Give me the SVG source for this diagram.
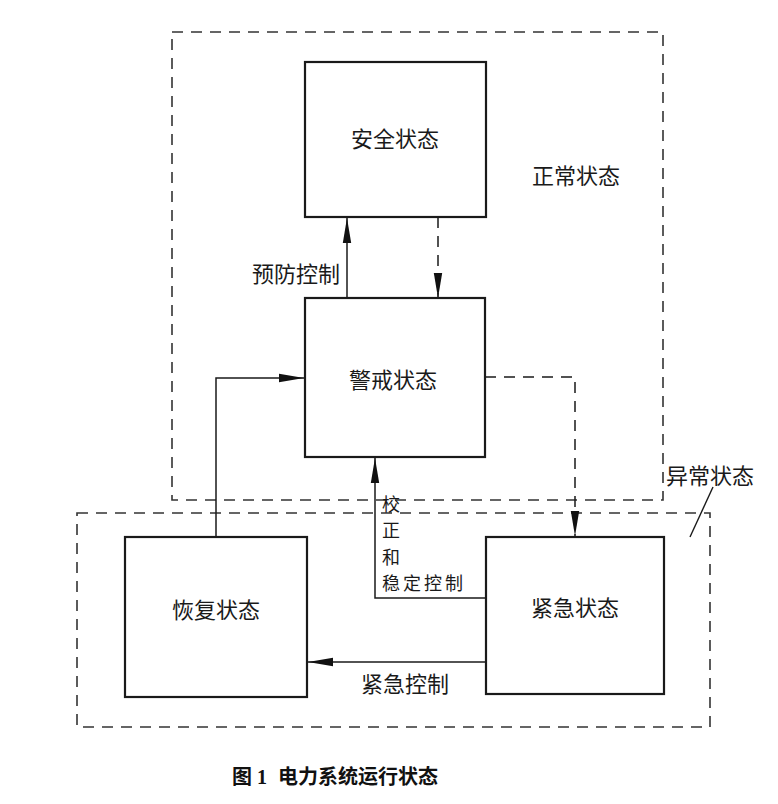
<svg xmlns="http://www.w3.org/2000/svg" width="778" height="804" viewBox="0 0 778 804">
<style>
.box{fill:none;stroke:#1a1a1a;stroke-width:2.2}
.region{fill:none;stroke:#333;stroke-width:1.6;stroke-dasharray:11 8}
.conn{fill:none;stroke:#1a1a1a;stroke-width:1.5}
.dash{fill:none;stroke:#1a1a1a;stroke-width:1.5;stroke-dasharray:11 8}
.lbl{font-family:"Noto Sans CJK SC","Liberation Sans",sans-serif;font-size:22px;fill:#1a1a1a}
.vl{font-family:"Noto Sans CJK SC","Liberation Sans",sans-serif;font-size:18px;fill:#1a1a1a;dominant-baseline:central;letter-spacing:3px}
.mid{text-anchor:middle;dominant-baseline:central}
.cap{font-family:"Liberation Serif","Noto Sans CJK SC",serif;font-size:20px;font-weight:bold;fill:#111}
</style>
<defs>
<marker id="ah" markerUnits="userSpaceOnUse" markerWidth="26" markerHeight="10" refX="25" refY="5" orient="auto">
<path d="M0,0.8 L25,5 L0,9.2 z" fill="#111" stroke="none"/>
</marker>
</defs>
<rect width="778" height="804" fill="#fff"/>
<g id="regions">
<rect id="normal-region" class="region" x="172" y="32" width="491" height="468"/>
<rect id="abnormal-region" class="region" x="77" y="513" width="633" height="214"/>
<text class="lbl mid" x="576" y="174">正常状态</text>
<text class="lbl mid" x="710" y="474">异常状态</text>
<line x1="713" y1="487" x2="690" y2="537" stroke="#1a1a1a" stroke-width="1.4"/>
</g>
<g id="connectors">
<line class="conn" x1="347" y1="298" x2="347" y2="218" marker-end="url(#ah)"/>
<line class="dash" x1="438" y1="217" x2="438" y2="298" marker-end="url(#ah)"/>
<path class="conn" d="M216,537 V378 H304" marker-end="url(#ah)"/>
<path class="dash" d="M485,377 H575 V536" marker-end="url(#ah)"/>
<path class="conn" d="M486,598 H375 V458" marker-end="url(#ah)"/>
<line class="conn" x1="486" y1="662" x2="308" y2="662" marker-end="url(#ah)"/>
<text class="lbl mid" x="296" y="272">预防控制</text>
<text class="vl" x="382" y="503">校</text>
<text class="vl" x="382" y="529.3">正</text>
<text class="vl" x="382" y="555.6">和</text>
<text class="vl" x="382" y="581.9">稳定控制</text>
<text class="lbl mid" x="405" y="682">紧急控制</text>
</g>
<g id="safe">
<rect class="box" x="305" y="62" width="181" height="155"/>
<text class="lbl mid" x="395" y="137">安全状态</text>
</g>
<g id="alert">
<rect class="box" x="305" y="298" width="180" height="159"/>
<text class="lbl mid" x="393" y="378">警戒状态</text>
</g>
<g id="restore">
<rect class="box" x="125" y="537" width="182" height="160"/>
<text class="lbl mid" x="216" y="608">恢复状态</text>
</g>
<g id="emergency">
<rect class="box" x="486" y="537" width="178" height="157"/>
<text class="lbl mid" x="575" y="606">紧急状态</text>
</g>
<g id="caption">
<text class="cap" x="232" y="784">图<tspan x="257">1</tspan><tspan x="278">电力系统运行状态</tspan></text>
</g>
</svg>
